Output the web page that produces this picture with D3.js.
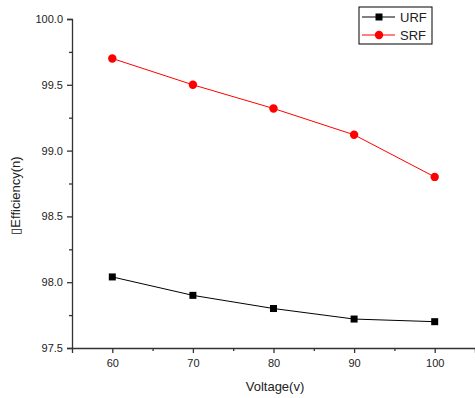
<!DOCTYPE html>
<html>
<head>
<meta charset="utf-8">
<script src="https://cdn.jsdelivr.net/npm/d3@7"></script>
<style>
  body { margin: 0; background: #fff; }
  text { font-family: "Liberation Sans", Arial, sans-serif; fill: #222; }
</style>
</head>
<body>
<div id="chart"></div>
<script>
// data
const voltage = [60, 70, 80, 90, 100];
const urf = [98.04, 97.90, 97.80, 97.72, 97.70];
const srf = [99.70, 99.50, 99.32, 99.12, 98.80];
const xTicks = [60, 70, 80, 90, 100];
const yTicks = [97.5, 98.0, 98.5, 99.0, 99.5, 100.0];

const dims = { width: 475, height: 398 };
const margins = { left: 72, right: 0, top: 19, bottom: 50 };

const svg = d3.select('#chart').append('svg')
  .attr('width', dims.width)
  .attr('height', dims.height);

const x = d3.scaleLinear().domain([55, 105]).range([margins.left, dims.width - margins.right]);
const y = d3.scaleLinear().domain([97.5, 100]).range([dims.height - margins.bottom, margins.top]);

// axes
const xAxis = svg.append('g')
  .attr('transform', `translate(0, ${y(97.5)})`)
  .call(d3.axisBottom(x).tickValues(xTicks).tickFormat(d3.format('d')).tickSize(5).tickPadding(6));
svg.append('g')
  .attr('transform', `translate(0, ${y(97.5)})`)
  .call(d3.axisBottom(x).tickValues([65, 75, 85, 95, 105]).tickFormat('').tickSize(3))
  .select('.domain').remove();

const yAxis = svg.append('g')
  .attr('transform', `translate(${margins.left}, 0)`)
  .call(d3.axisLeft(y).tickValues(yTicks).tickFormat(d3.format('.1f')).tickSize(5).tickPadding(4));
svg.append('g')
  .attr('transform', `translate(${margins.left}, 0)`)
  .call(d3.axisLeft(y).tickValues([97.75, 98.25, 98.75, 99.25, 99.75]).tickFormat('').tickSize(3))
  .select('.domain').remove();

svg.selectAll('.domain, .tick line').attr('stroke', '#333').attr('stroke-width', 1.3);
svg.selectAll('.tick text').attr('font-size', 11).attr('fill', '#222')
  .style('font-family', '"Liberation Sans", Arial, sans-serif');

// titles
svg.append('text')
  .attr('x', 275).attr('y', 391)
  .attr('text-anchor', 'middle')
  .attr('font-size', 13)
  .text('Voltage(v)');

svg.append('text')
  .attr('transform', `translate(20, ${(y(97.5) + y(100)) / 2 + 12}) rotate(-90)`)
  .attr('text-anchor', 'middle')
  .attr('font-size', 13)
  .text('\u25AFEfficiency(n)');

// series
const line = d3.line().x(d => x(d[0])).y(d => y(d[1]));
const urfPts = voltage.map((v, i) => [v, urf[i]]);
const srfPts = voltage.map((v, i) => [v, srf[i]]);

svg.append('path').datum(urfPts).attr('d', line)
  .attr('fill', 'none').attr('stroke', '#000').attr('stroke-width', 1);
svg.append('path').datum(srfPts).attr('d', line)
  .attr('fill', 'none').attr('stroke', '#ff0000').attr('stroke-width', 1);

svg.selectAll('rect.urf').data(urfPts).join('rect')
  .attr('class', 'urf')
  .attr('x', d => x(d[0]) - 3.5).attr('y', d => y(d[1]) - 3.5)
  .attr('width', 7).attr('height', 7).attr('fill', '#000');
svg.selectAll('circle.srf').data(srfPts).join('circle')
  .attr('class', 'srf')
  .attr('cx', d => x(d[0])).attr('cy', d => y(d[1]))
  .attr('r', 4.2).attr('fill', '#ff0000');

// legend
const lg = svg.append('g').attr('transform', 'translate(359, 7)');
lg.append('rect').attr('width', 73).attr('height', 37)
  .attr('fill', '#fff').attr('stroke', '#000').attr('stroke-width', 1);
const items = [
  { name: 'URF', color: '#000', shape: 'square' },
  { name: 'SRF', color: '#ff0000', shape: 'circle' }
];
items.forEach((it, i) => {
  const cy = 10 + i * 18;
  lg.append('line').attr('x1', 3).attr('x2', 36).attr('y1', cy).attr('y2', cy)
    .attr('stroke', it.color).attr('stroke-width', 1);
  if (it.shape === 'square') {
    lg.append('rect').attr('x', 16.5).attr('y', cy - 3.5).attr('width', 7).attr('height', 7).attr('fill', it.color);
  } else {
    lg.append('circle').attr('cx', 20).attr('cy', cy).attr('r', 4.2).attr('fill', it.color);
  }
  lg.append('text').attr('x', 41).attr('y', cy + 5).attr('font-size', 13).text(it.name);
});
</script>
</body>
</html>
